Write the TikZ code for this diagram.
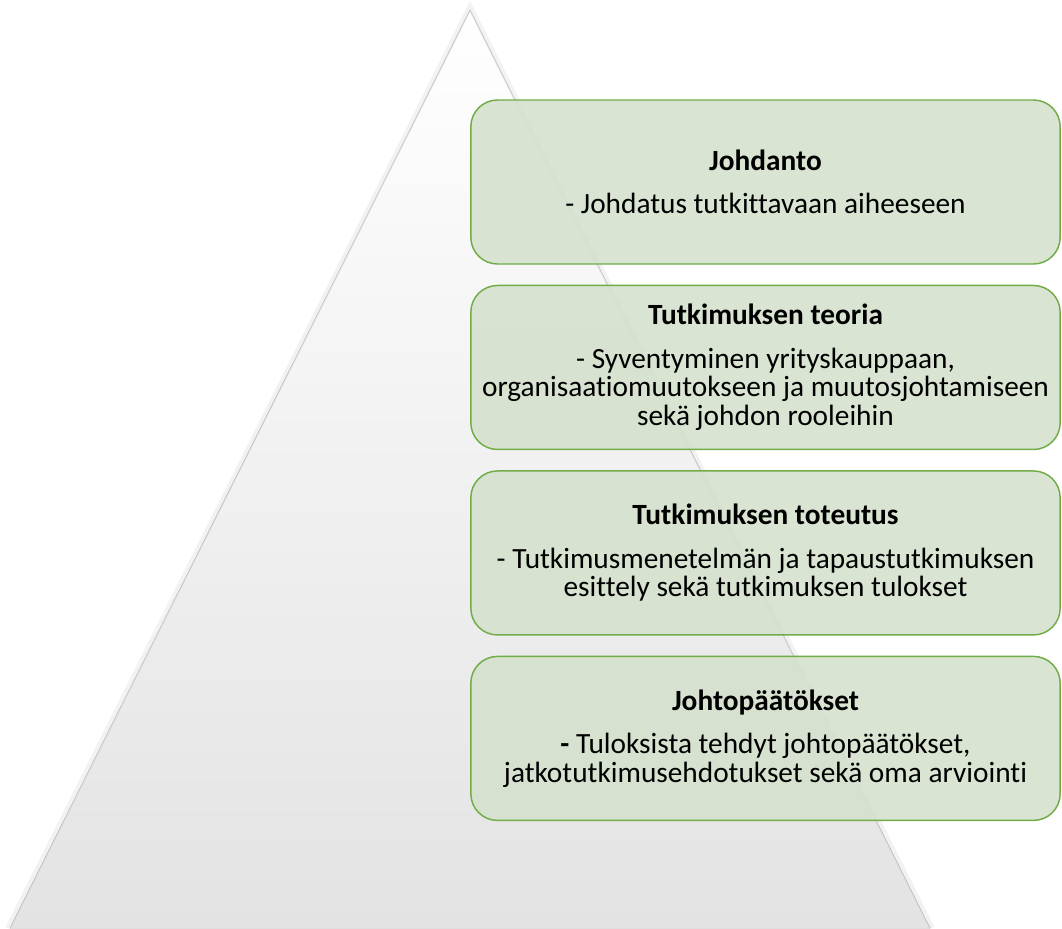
\documentclass[tikz,border=0pt]{standalone}
\usepackage{fontspec}
\setmainfont[Ligatures=NoCommon]{Carlito}
\usepackage{xcolor}
\usepackage{tikz}
\usetikzlibrary{positioning,calc}

\definecolor{partfill}{HTML}{D5E1CE}
\definecolor{partline}{HTML}{70AD47}

\tikzset{
    part/.style={draw=partline, line width=1.1pt, fill=partfill, fill opacity=0.9, text opacity=1,
        rounded corners=20pt, minimum width=442pt, minimum height=123pt, inner sep=0pt,
        align=center, font=\fontsize{22}{21.5}\selectfont},
}

\begin{document}
\begin{tikzpicture}[x=0.75pt,y=-0.75pt]
    \useasboundingbox (0,0) rectangle (1062,928);
    % Pyramid in the back
    \fill[top color=white, bottom color=gray!22] (10,928) -- (470,10) -- (930,928) -- cycle;
    \draw[black, opacity=0.05, line width=4pt] (8,928) -- (470,7) -- (932,928);
    \draw[gray!40, line width=0.5pt] (10,928) -- (470,10) -- (930,928);
    % Chapters
    \node[part] (intro) at (765.5,182) {\textbf{Johdanto}\\[11pt] - Johdatus tutkittavaan aiheeseen};
    \node[part, below=15pt of intro] (theory) {\textbf{Tutkimuksen teoria}\\[11pt] - Syventyminen yrityskauppaan,\\ organisaatiomuutokseen ja muutosjohtamiseen\\ sekä johdon rooleihin};
    \node[part, below=15pt of theory] (method) {\textbf{Tutkimuksen toteutus}\\[11pt] - Tutkimusmenetelmän ja tapaustutkimuksen\\ esittely sekä tutkimuksen tulokset};
    \node[part, below=15pt of method] (concl) {\textbf{Johtopäätökset}\\[11pt] \textbf{-} Tuloksista tehdyt johtopäätökset,\\ jatkotutkimusehdotukset sekä oma arviointi};
\end{tikzpicture}
\end{document}
